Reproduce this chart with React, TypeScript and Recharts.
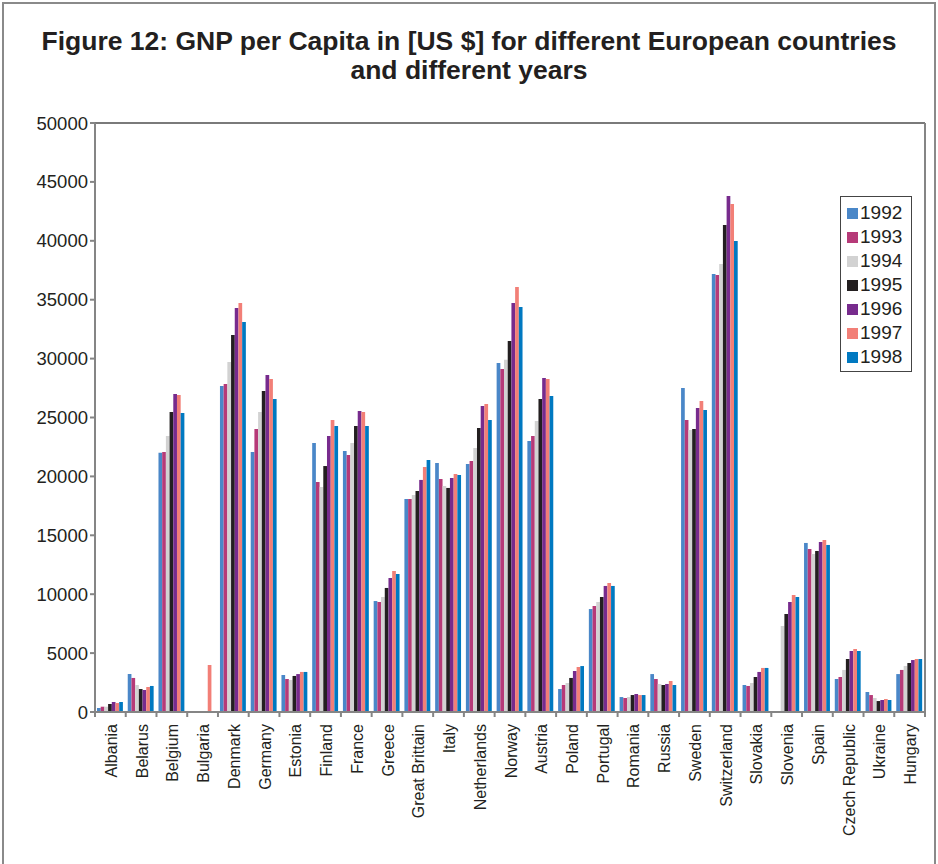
import React from 'react';
import { BarChart, Bar, XAxis, YAxis, CartesianGrid, Legend } from 'recharts';

// GNP per capita (US $) by country, one array per year, in country order
const countries = [
  'Albania', 'Belarus', 'Belgium', 'Bulgaria', 'Denmark', 'Germany', 'Estonia',
  'Finland', 'France', 'Greece', 'Great Brittain', 'Italy', 'Netherlands', 'Norway',
  'Austria', 'Poland', 'Portugal', 'Romania', 'Russia', 'Sweden', 'Switzerland',
  'Slovakia', 'Slovenia', 'Spain', 'Czech Republic', 'Ukraine', 'Hungary',
];

const years = ['1992', '1993', '1994', '1995', '1996', '1997', '1998'];

const gnp1992 = [340, 3220, 22000, null, 27670, 22070, 3140, 22840, 22160, 9420, 18080, 21140, 21050, 29630, 23010, 1950, 8740, 1270, 3220, 27500, 37180, 2290, null, 14350, 2800, 1700, 3220];
const gnp1993 = [450, 2890, 22070, null, 27840, 24020, 2800, 19520, 21820, 9340, 18080, 19780, 21310, 29120, 23430, 2290, 9000, 1190, 2800, 24790, 37100, 2210, null, 13840, 2970, 1440, 3570];
const gnp1994 = [450, 2290, 23430, null, 29710, 25470, 2720, 19100, 22840, 9760, 18420, 19190, 22410, 29900, 24700, 2460, 9340, 1270, 2380, 23940, 38030, 2460, 7300, 13410, 3570, 1190, 3910];
const gnp1995 = [680, 1950, 25470, null, 32000, 27250, 3060, 20880, 24280, 10530, 18760, 19020, 24110, 31490, 26570, 2890, 9760, 1440, 2290, 24020, 41340, 2970, 8320, 13670, 4500, 930, 4160];
const gnp1996 = [850, 1870, 27000, null, 34300, 28610, 3220, 23430, 25550, 11380, 19700, 19870, 25980, 34720, 28350, 3480, 10700, 1530, 2380, 25800, 43800, 3400, 9340, 14430, 5180, 1020, 4410];
const gnp1997 = [760, 2120, 26910, 3990, 34720, 28270, 3400, 24790, 25470, 11970, 20800, 20200, 26150, 36080, 28270, 3820, 10950, 1440, 2630, 26400, 43120, 3740, 9930, 14600, 5350, 1100, 4500];
const gnp1998 = [850, 2210, 25380, null, 33100, 26570, 3400, 24280, 24280, 11720, 21390, 20120, 24790, 34380, 26830, 3900, 10700, 1440, 2290, 25640, 39980, 3740, 9760, 14180, 5180, 1020, 4500];

const yearColors = ['#4a87c8', '#b63a78', '#d2d2d2', '#231f20', '#772b8d', '#f27f77', '#0079c1'];

const yTicks = [0, 5000, 10000, 15000, 20000, 25000, 30000, 35000, 40000, 45000, 50000];

const seriesByYear = [gnp1992, gnp1993, gnp1994, gnp1995, gnp1996, gnp1997, gnp1998];

const rows = countries.map((country, i) => {
  const row: Record<string, string | number | null> = { country };
  years.forEach((year, k) => {
    row['y' + year] = seriesByYear[k][i];
  });
  return row;
});

const CHART_W = 938;
const CHART_H = 864;
const MARGIN = { top: 123, right: 12, bottom: 0, left: 0 };
const Y_AXIS_W = 95;
const X_AXIS_H = 152;
const PLOT_W = CHART_W - MARGIN.left - MARGIN.right - Y_AXIS_W - 1;
const TEXT = '#231f20';
const AXIS = '#858585';
const FONT = '"Liberation Sans", Arial, Helvetica, sans-serif';

// Rotated country name plus the Excel-style tick marks between categories
const CountryTick = (props: any) => {
  const { x, y, payload, index } = props;
  const half = payload && payload.offset > 0 ? payload.offset : PLOT_W / countries.length / 2;
  const lineTop = y - 12;
  const lineBottom = y - 7;
  return (
    <g>
      {index === 0 && (
        <line x1={x - half} x2={x - half} y1={lineTop} y2={lineBottom} stroke={AXIS} strokeWidth={2} />
      )}
      <line x1={x + half} x2={x + half} y1={lineTop} y2={lineBottom} stroke={AXIS} strokeWidth={2} />
      <text
        x={x + 1}
        y={y}
        transform={`rotate(-90, ${x + 1}, ${y})`}
        textAnchor="end"
        dominantBaseline="central"
        fontSize={16}
        fontFamily={FONT}
        fill={TEXT}
      >
        {payload.value}
      </text>
    </g>
  );
};

const YearLegend = (props: any) => {
  const items = props.payload || [];
  return (
    <div
      style={{
        border: '1px solid #444',
        background: '#fff',
        padding: '4px 0 2px 6px',
        boxSizing: 'border-box',
        width: 72,
      }}
    >
      {items.map((item: any) => (
        <div
          key={item.value}
          style={{ display: 'flex', alignItems: 'center', height: 24, fontFamily: FONT, fontSize: 19, color: TEXT }}
        >
          <span style={{ display: 'inline-block', width: 11, height: 11, background: item.color, marginRight: 2 }} />
          <span>{item.value}</span>
        </div>
      ))}
    </div>
  );
};

export default function App() {
  return (
    <div
      style={{
        position: 'absolute',
        left: 0,
        top: 0,
        width: CHART_W,
        height: CHART_H,
        overflow: 'hidden',
        background: '#fff',
        fontFamily: FONT,
      }}
    >
      <div
        style={{
          position: 'absolute',
          left: 2,
          top: 2,
          width: 934,
          height: 920,
          border: '2px solid #8a8a8a',
          boxSizing: 'border-box',
        }}
      />
      <div
        style={{
          position: 'absolute',
          left: 0,
          top: 27,
          width: CHART_W,
          textAlign: 'center',
          fontWeight: 'bold',
          fontSize: 26.5,
          lineHeight: '29px',
          color: TEXT,
        }}
      >
        Figure 12: GNP per Capita in [US $] for different European countries
        <br />
        and different years
      </div>
      <div style={{ position: 'absolute', left: 0, top: 0 }}>
        <BarChart
          width={CHART_W}
          height={CHART_H}
          data={rows}
          margin={MARGIN}
          barGap={0}
          barSize={3.7}
        >
          <CartesianGrid horizontal vertical={false} stroke="#4e4e4e" strokeWidth={1.6} />
          <XAxis
            dataKey="country"
            type="category"
            interval={0}
            height={X_AXIS_H}
            tickLine={false}
            tickSize={5}
            tickMargin={7}
            axisLine={{ stroke: AXIS, strokeWidth: 2 }}
            tick={<CountryTick />}
          />
          <YAxis
            yAxisId="left"
            width={Y_AXIS_W}
            domain={[0, 50000]}
            ticks={yTicks}
            interval={0}
            tickSize={5}
            tickMargin={2}
            tickLine={{ stroke: AXIS, strokeWidth: 2 }}
            axisLine={{ stroke: AXIS, strokeWidth: 2 }}
            tick={{ fontSize: 18.5, fill: TEXT, fontFamily: FONT }}
          />
          <YAxis
            yAxisId="right"
            orientation="right"
            width={1}
            domain={[0, 50000]}
            tick={false}
            tickLine={false}
            axisLine={{ stroke: AXIS, strokeWidth: 2 }}
          />
          <Legend
            layout="vertical"
            align="center"
            verticalAlign="middle"
            content={<YearLegend />}
            wrapperStyle={{ position: 'absolute', left: 840, top: 196, width: 72, height: 'auto' }}
          />
          {years.map((year, k) => (
            <Bar
              key={year}
              yAxisId="left"
              dataKey={'y' + year}
              name={year}
              fill={yearColors[k]}
              isAnimationActive={false}
            />
          ))}
        </BarChart>
      </div>
    </div>
  );
}
